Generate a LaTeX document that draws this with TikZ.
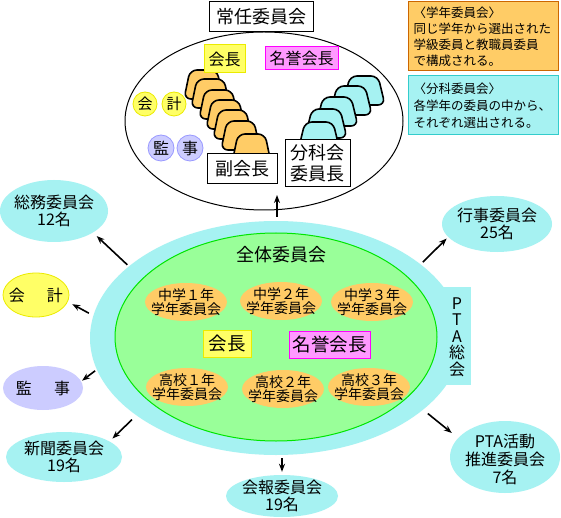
\documentclass[tikz,border=0pt]{standalone}
\usepackage{fontspec}
\setmainfont{Noto Sans CJK JP}
\usetikzlibrary{shapes.geometric,arrows.meta}
\definecolor{cyanf}{RGB}{166,242,242}
\definecolor{cyanb}{RGB}{51,204,204}
\definecolor{orangef}{RGB}{255,204,102}
\definecolor{orangeb}{RGB}{204,102,0}
\definecolor{greenf}{RGB}{153,255,153}
\definecolor{greenb}{RGB}{0,230,0}
\definecolor{yellowf}{RGB}{255,255,102}
\definecolor{yellowb}{RGB}{235,235,0}
\definecolor{pinkf}{RGB}{255,153,255}
\definecolor{pinkb}{RGB}{255,0,255}
\definecolor{lavf}{RGB}{204,204,255}
\definecolor{lavb}{RGB}{153,153,255}
\tikzset{
  ell/.style={ellipse, inner sep=0pt},
  outerell/.style={ell, fill=cyanf},
  txt/.style={inner sep=0pt, align=center},
  lbl/.style={txt, font=\fontsize{16}{17}\selectfont},
  grade/.style={ell, fill=orangef, minimum width=82pt, minimum height=38pt},
  gradetxt/.style={txt, font=\fontsize{14}{14.5}\selectfont},
  ybox/.style={fill=yellowf, draw=yellowb, line width=1pt, inner sep=0pt},
  pbox/.style={fill=pinkf, draw=pinkb, line width=1pt, inner sep=0pt},
  wbox/.style={fill=white, draw=black, line width=1pt, inner sep=0pt, align=center},
  ycirc/.style={circle, fill=yellowf, draw=yellowb, line width=0.8pt, minimum size=24pt, inner sep=0pt, font=\fontsize{15}{15}\selectfont},
  lcirc/.style={circle, fill=lavf, draw=lavb, line width=0.8pt, minimum size=26pt, inner sep=0pt, font=\fontsize{16}{16}\selectfont},
  stackor/.style={fill=orangef, draw=black, line width=1.6pt, rounded corners=7pt},
  stackcy/.style={fill=cyanf, draw=black, line width=1.6pt, rounded corners=7pt},
  arr/.style={-{Stealth[length=8pt,width=6pt]}, line width=1.6pt},
  note/.style={line width=1pt, inner xsep=5pt, inner ysep=0pt, text width=140pt, align=left, font=\fontsize{12.5}{16}\selectfont},
}
\begin{document}
\begin{tikzpicture}[x=1pt,y=-1pt]
\useasboundingbox (0,0) rectangle (561,518);
\fill[white] (0,0) rectangle (561,518);

% ---- top part: standing committee ----
\node[draw, ellipse, line width=1pt, minimum width=278pt, minimum height=178pt] (topell) at (264,121) {};
\node[wbox, minimum width=104pt, minimum height=30pt, font=\fontsize{18}{18}\selectfont] (joumu) at (261,17) {常任委員会};

\foreach \x/\y in {190/70,197/79,205/90,212/100,219/110,227/121,238/134}
  \draw[stackor] (\x,\y) -- ++(27,0) -- ++(6,29) -- ++(-39,0) -- cycle;
\foreach \x/\y in {350/76,337/86,323/97,312/109,305/122}
  \draw[stackcy] (\x,\y) -- ++(28,0) -- ++(7,29) -- ++(-42,0) -- cycle;

\node[ybox, minimum width=41pt, minimum height=28pt, font=\fontsize{16}{16}\selectfont] (kaichoT) at (224.5,59) {会長};
\node[pbox, minimum width=73pt, minimum height=23pt, font=\fontsize{16}{16}\selectfont] (meiyoT) at (301.5,58.5) {名誉会長};
\node[ycirc] (kai) at (145,104) {会};
\node[ycirc] (kei) at (174,104) {計};
\node[lcirc] (kan) at (161,148) {監};
\node[lcirc] (ji) at (190,148) {事};
\node[wbox, minimum width=70pt, minimum height=30pt, font=\fontsize{18}{18}\selectfont] (fuku) at (242,169) {副会長};
\node[wbox, minimum width=65pt, minimum height=47pt, font=\fontsize{18}{21}\selectfont] (bunka) at (317.5,163.5) {分科会\\委員長};

% ---- notes ----
\node[note, fill=orangef, draw=orangeb, minimum height=69pt] (note1) at (483.5,36.5)
  {〈学年委員会〉\\同じ学年から選出された\\学級委員と教職員委員\\で構成される。};
\node[note, fill=cyanf, draw=cyanb, minimum height=59pt, font=\fontsize{12.5}{17}\selectfont] (note2) at (483.5,105.5)
  {〈分科委員会〉\\各学年の委員の中から、\\それぞれ選出される。};

% ---- general assembly ----
\node[outerell, minimum width=372pt, minimum height=234pt] (pta) at (276,338) {};
\node[fill=cyanf, minimum width=28pt, minimum height=98pt, inner sep=0pt] (tab) at (457,336) {};
\node[txt, font=\fontsize{16}{16.5}\selectfont] (tabT) at (457,337) {P\\T\\A\\総\\会};
\node[ell, fill=greenf, draw=greenb, line width=1pt, minimum width=322pt, minimum height=208pt] (whole) at (276,337) {};
\node[txt, font=\fontsize{18}{18}\selectfont] (wholeT) at (281,255) {全体委員会};

\node[grade] (c1) at (186,302) {};
\node[gradetxt] (c1T) at (c1) {中学１年\\学年委員会};
\node[grade] (c2) at (281,301) {};
\node[gradetxt] (c2T) at (c2) {中学２年\\学年委員会};
\node[grade] (c3) at (372,302) {};
\node[gradetxt] (c3T) at (c3) {中学３年\\学年委員会};
\node[grade] (h1) at (187,387) {};
\node[gradetxt] (h1T) at (h1) {高校１年\\学年委員会};
\node[grade] (h2) at (283,389) {};
\node[gradetxt] (h2T) at (h2) {高校２年\\学年委員会};
\node[grade] (h3) at (369,387) {};
\node[gradetxt] (h3T) at (h3) {高校３年\\学年委員会};

\node[ybox, minimum width=48pt, minimum height=27pt, font=\fontsize{18.5}{18.5}\selectfont] (kaicho) at (227,343.5) {会長};
\node[pbox, minimum width=81pt, minimum height=27pt, font=\fontsize{18.5}{18.5}\selectfont] (meiyo) at (329.5,344.5) {名誉会長};

% ---- outer committees ----
\node[outerell, minimum width=108pt, minimum height=62pt] (soumu) at (54,211) {};
\node[lbl] (soumuT) at (soumu) {総務委員会\\12名};
\node[ell, fill=yellowf, draw=yellowb, line width=0.8pt, minimum width=66pt, minimum height=44pt] (kaikei) at (36,295) {};
\node[lbl] (kaikeiT) at (kaikei) {会\hspace{22pt}計};
\node[ell, fill=lavf, minimum width=80pt, minimum height=44pt] (kanji) at (43,388) {};
\node[lbl] (kanjiT) at (kanji) {監\hspace{22pt}事};
\node[outerell, minimum width=116pt, minimum height=50pt] (shinbun) at (64,457) {};
\node[lbl] (shinbunT) at (shinbun) {新聞委員会\\19名};
\node[outerell, minimum width=112pt, minimum height=42pt] (hoho) at (282,496) {};
\node[lbl] (hohoT) at (hoho) {会報委員会\\19名};
\node[outerell, minimum width=110pt, minimum height=56pt] (gyoji) at (497,224) {};
\node[lbl] (gyojiT) at (gyoji) {行事委員会\\25名};
\node[outerell, minimum width=110pt, minimum height=72pt] (suishin) at (505,457) {};
\node[lbl, font=\fontsize{16}{18}\selectfont] (suishinT) at (505,459) {PTA活動\\推進委員会\\7名};

% ---- arrows ----
\coordinate (uptip) at (277,195);
\draw[arr, shorten <=4pt] (pta.north -| uptip) -- (uptip);
\draw[arr, shorten <=2pt, shorten >=5pt] (pta.154) -- (soumu.-29);
\draw[arr, shorten <=5pt, shorten >=5pt] (pta.173) -- (kaikei.-12.5);
\draw[arr, shorten <=2pt, shorten >=1pt] (pta.190) -- (kanji.10.4);
\draw[arr, shorten <=6pt, shorten >=4pt] (pta.209.8) -- (shinbun.19.1);
\draw[arr, shorten <=3pt, shorten >=3pt] (pta.south -| hoho.north) -- (hoho.north);
\draw[arr, shorten <=3pt, shorten >=2pt] (pta.27.3) -- (gyoji.195.6);
\draw[arr, shorten <=6pt, shorten >=8pt] (pta.-26.3) -- (suishin.158.2);
\end{tikzpicture}
\end{document}
